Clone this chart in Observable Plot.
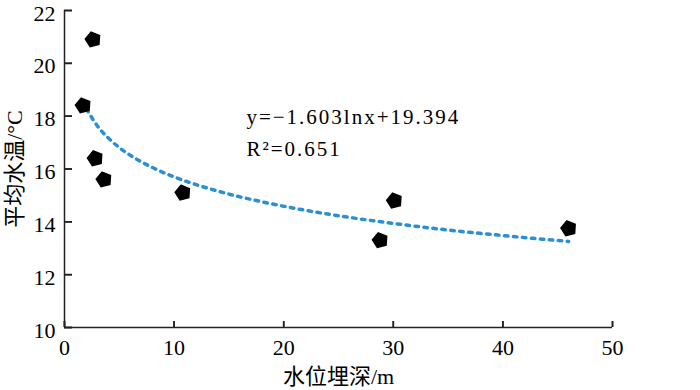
<!DOCTYPE html>
<html>
<head>
<meta charset="utf-8">
<script src="https://cdn.jsdelivr.net/npm/d3@7"></script>
<script src="https://cdn.jsdelivr.net/npm/@observablehq/plot@0.6"></script>
<style>
  html, body { margin: 0; padding: 0; background: #fff; }
  #chart svg { font-family: "Liberation Serif", "Noto Sans CJK SC", serif; }
</style>
</head>
<body>
<div id="chart"></div>
<script>
// observed points: water table depth (m) vs mean water temperature (°C)
const depth = [1.7, 2.6, 2.8, 3.6, 10.8, 28.8, 30.1, 46.0];
const temp  = [18.4, 20.9, 16.4, 15.6, 15.1, 13.3, 14.8, 13.75];

// trend curve
const trendX = [2, 3, 4, 5, 6, 8, 10, 12, 15, 18, 21, 25, 30, 35, 40, 46];
const trendY = [18.28, 17.63, 17.17, 16.81, 16.52, 16.06, 15.70, 15.41, 15.05, 14.76, 14.51, 14.23, 13.94, 13.69, 13.48, 13.26];

const xTicks = [0, 10, 20, 30, 40, 50];
const yTicks = [10, 12, 14, 16, 18, 20, 22];
const eqLines = ["y=−1.603lnx+19.394", "R²=0.651"];

const points = depth.map((d, i) => ({x: d, y: temp[i]}));
const trend = trendX.map((d, i) => ({x: d, y: trendY[i]}));

const pentagon = {
  draw(context, size) {
    const r = Math.sqrt(size / Math.PI) * 1.1;
    const rot = -Math.PI / 2 - 0.25;
    for (let k = 0; k < 5; k++) {
      const a = rot + k * 2 * Math.PI / 5;
      const px = r * Math.cos(a), py = r * Math.sin(a);
      if (k === 0) context.moveTo(px, py); else context.lineTo(px, py);
    }
    context.closePath();
  }
};

const W = 700, H = 390, ML = 64, MR = 88, MT = 10, MB = 63;

const chart = Plot.plot({
  width: W,
  height: H,
  marginLeft: ML,
  marginRight: MR,
  marginTop: MT,
  marginBottom: MB,
  style: {fontSize: "22px", fontFamily: "\"Liberation Serif\", \"Noto Sans CJK SC\", serif", color: "#000", background: "#fff"},
  x: {domain: [0, 50]},
  y: {domain: [10, 22]},
  marks: [
    Plot.ruleY([10], {stroke: "#222", strokeWidth: 1.5}),
    Plot.ruleX([0], {stroke: "#222", strokeWidth: 1.5}),
    // inward ticks: short rules inset from the far side of the frame
    Plot.ruleX(xTicks, {x: d => d, insetTop: (H - MT - MB) - 6, stroke: "#222", strokeWidth: 1.6}),
    Plot.ruleY(yTicks, {y: d => d, insetRight: (W - ML - MR) - 8, stroke: "#222", strokeWidth: 1.6}),
    // native axis ticks shifted inward (no text)
    Plot.axisX({ticks: xTicks, tickSize: 6, dy: -6, tickFormat: () => "", label: null, stroke: "#222", strokeWidth: 1.6, strokeOpacity: 1}),
    Plot.axisY({ticks: yTicks, tickSize: 8, dx: 8, tickFormat: () => "", label: null, stroke: "#222", strokeWidth: 1.6, strokeOpacity: 1}),
    // tick labels and axis titles
    Plot.axisX({ticks: xTicks, tickSize: 0, tickPadding: 12,
      label: "水位埋深/m", labelAnchor: "center", labelArrow: "none", labelOffset: 56, fontSize: 22}),
    Plot.axisY({ticks: yTicks, tickSize: 0, tickPadding: 9, dy: 3,
      label: "平均水温/°C", labelAnchor: "center", labelArrow: "none", labelOffset: 58, fontSize: 22}),
    Plot.line(trend, {x: "x", y: "y", stroke: "#2a8fd4", strokeWidth: 3.5, strokeDasharray: "3.5,5.5", curve: "monotone-x"}),
    Plot.dot(points, {x: "x", y: "y", symbol: pentagon, r: 7, fill: "#000", stroke: "#000"}),
    Plot.text([eqLines[0]], {x: 16.6, y: 17.95, text: d => d, textAnchor: "start", fontSize: 21, fill: "#000"}),
    Plot.text([eqLines[1]], {x: 16.6, y: 16.74, text: d => d, textAnchor: "start", fontSize: 21, fill: "#000"})
  ]
});

// wider letter spacing for the regression annotation
d3.select(chart).selectAll("text").filter(function () { return eqLines.includes(this.textContent); })
  .attr("letter-spacing", "2px");

document.getElementById("chart").appendChild(chart);
</script>
</body>
</html>
